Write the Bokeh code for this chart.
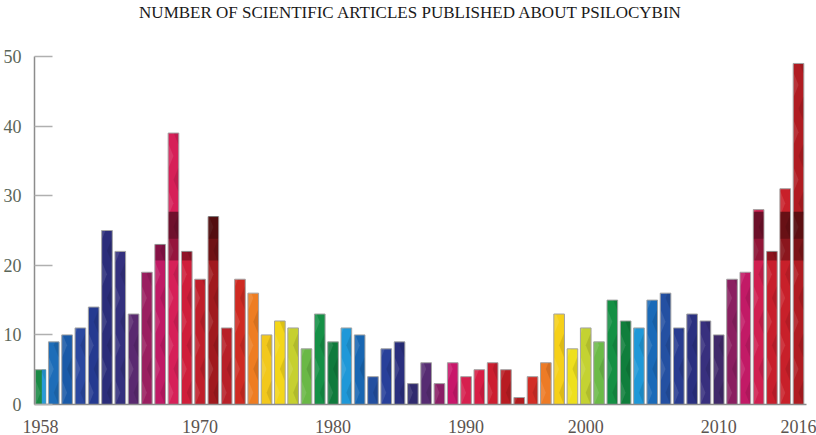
from bokeh.plotting import figure
from bokeh.models import ColumnDataSource, FixedTicker, Range1d, Div
from bokeh.layouts import column
from bokeh.embed import file_html
from bokeh.resources import INLINE

# ---- data ----
counts = [5, 9, 10, 11, 14, 25, 22, 13, 19, 23, 39, 22, 18, 27, 11, 18, 16, 10, 12, 11,
          8, 13, 9, 11, 10, 4, 8, 9, 3, 6, 3, 6, 4, 5, 6, 5, 1, 4, 6, 13,
          8, 11, 9, 15, 12, 11, 15, 16, 11, 13, 12, 10, 18, 19, 28, 22, 31, 49]
x_tick_index = [0, 12, 22, 32, 41, 51, 57]
x_tick_labels = ["1958", "1970", "1980", "1990", "2000", "2010", "2016"]
y_ticks = [0, 10, 20, 30, 40, 50]
title_text = "NUMBER OF SCIENTIFIC ARTICLES PUBLISHED ABOUT PSILOCYBIN"

# ---- styles ----
bar_colors = ["#1a8a45", "#1e6db8", "#1a5aa8", "#2a48a0", "#253a90", "#2b2d7a", "#33307e",
              "#5a2a70", "#9a1f60", "#c01a65", "#d62058", "#cf1e3a", "#c01e2a", "#a01a1e",
              "#b82028", "#cf2a22", "#ee7d22", "#f2c81c", "#f4d619", "#c6d030", "#6ab846",
              "#159046", "#0f7a3c", "#1f98d8", "#1866b2", "#234fa0", "#28409a", "#2a2f7e",
              "#302a6e", "#562c72", "#8a1f66", "#c8176a", "#d6204e", "#d81d45", "#cc1e30",
              "#b81c22", "#b01c20", "#d22d26", "#ed7b26", "#f6d018", "#eee01c", "#c4d232",
              "#6cbb48", "#149044", "#107e3c", "#1f98d8", "#1a6ab8", "#2450a2", "#283c90",
              "#2a3080", "#38307e", "#402a6a", "#8a1f60", "#c21a66", "#d01f50", "#c81e2c",
              "#c8202a", "#b01c22"]
first_stripe_color = "#2a9ad8"
shaded_bars = [9, 10, 11, 13, 54, 55, 56, 57]
FONT = "Liberation Serif"

bar_w = 0.8
idx = list(range(len(counts)))

W = 816
TITLE_H = 26
H = 435 - TITLE_H

title = Div(text=title_text, width=W, height=TITLE_H, margin=(0, 0, 0, 0),
            styles={"font-family": FONT, "font-size": "17px", "color": "#1a1a1a",
                    "text-align": "center", "padding-top": "3px", "line-height": "20px",
                    "width": "820px"})

p = figure(width=W, height=H, output_backend="svg", toolbar_location=None,
           x_range=Range1d(-0.45, 57.6), y_range=Range1d(0, 50),
           min_border_left=32, min_border_right=10, min_border_top=30, min_border_bottom=31)
p.outline_line_color = None
p.xgrid.visible = False
p.ygrid.visible = False

src = ColumnDataSource(dict(x=idx, top=counts, color=bar_colors))
p.vbar(x="x", top="top", bottom=0, width=bar_w, source=src, fill_color="color",
       line_color="#a3a3a3", line_width=1)

# blue stripe on first bar
p.vbar(x=[idx[0] + bar_w / 2 - 0.15], top=[counts[0]], bottom=0, width=0.3,
       fill_color=first_stripe_color, line_color=None)


# faceted (low-poly) texture inside each bar, clipped at the bar top
def clip_below(poly, ymax):
    out = []
    n = len(poly)
    for k in range(n):
        (x1, y1), (x2, y2) = poly[k], poly[(k + 1) % n]
        in1, in2 = y1 <= ymax, y2 <= ymax
        if in1:
            out.append((x1, y1))
        if in1 != in2:
            t = (ymax - y1) / (y2 - y1)
            out.append((x1 + t * (x2 - x1), ymax))
    return out


row_h = 3.4
lx, ly, dx, dy = [], [], [], []
for i, v in zip(idx, counts):
    xl, xr, xc = i - bar_w / 2 + 0.04, i + bar_w / 2 - 0.04, i
    k = 0
    while k * row_h < v:
        y0, y1 = k * row_h, (k + 1) * row_h
        ym = (y0 + y1) / 2
        if (k + i) % 2 == 0:
            poly = clip_below([(xl, y0), (xc, ym), (xl, y1)], v - 0.05)
            if len(poly) >= 3:
                lx.append([q[0] for q in poly]); ly.append([q[1] for q in poly])
        else:
            poly = clip_below([(xr, y0), (xc, ym), (xr, y1)], v - 0.05)
            if len(poly) >= 3:
                dx.append([q[0] for q in poly]); dy.append([q[1] for q in poly])
        k += 1
p.patches(lx, ly, fill_color="white", fill_alpha=0.11, line_color=None)
p.patches(dx, dy, fill_color="black", fill_alpha=0.1, line_color=None)

# darker band texture on the tall red bars
band_lo, band_hi, band_mid = 20.7, 27.7, 23.8
bx = [i for i in shaded_bars if counts[i] > band_lo]
p.vbar(x=bx, bottom=band_lo, top=[min(counts[i], band_hi) for i in bx], width=bar_w - 0.08,
       fill_color="black", fill_alpha=0.3, line_color=None)
bx2 = [i for i in bx if counts[i] > band_mid]
p.vbar(x=bx2, bottom=band_mid, top=[min(counts[i], band_hi) for i in bx2], width=bar_w - 0.08,
       fill_color="black", fill_alpha=0.25, line_color=None)

# y axis
p.yaxis.ticker = FixedTicker(ticks=y_ticks)
p.yaxis.axis_line_color = "#8c8c8c"
p.yaxis.axis_line_width = 1.5
p.yaxis.major_tick_in = 18
p.yaxis.major_tick_out = 0
p.yaxis.major_tick_line_color = "#b0b0b0"
p.yaxis.major_tick_line_width = 1.5
p.yaxis.minor_tick_line_color = None
p.yaxis.major_label_standoff = 13
p.yaxis.major_label_text_font = FONT
p.yaxis.major_label_text_font_size = "18px"
p.yaxis.major_label_text_color = "#5a6658"

# x axis
p.xaxis.ticker = FixedTicker(ticks=x_tick_index)
p.xaxis.major_label_overrides = {i: lab for i, lab in zip(x_tick_index, x_tick_labels)}
p.xaxis.axis_line_color = "#8c8c8c"
p.xaxis.axis_line_width = 1.5
p.xaxis.major_tick_line_color = None
p.xaxis.minor_tick_line_color = None
p.xaxis.major_tick_in = 0
p.xaxis.major_tick_out = 0
p.xaxis.major_label_standoff = 15
p.xaxis.major_label_text_line_height = 0.8
p.xaxis.major_label_text_font = FONT
p.xaxis.major_label_text_font_size = "18px"
p.xaxis.major_label_text_color = "#5c5450"

layout = column(title, p, spacing=0)
open("out.html", "w").write(file_html(layout, INLINE))
